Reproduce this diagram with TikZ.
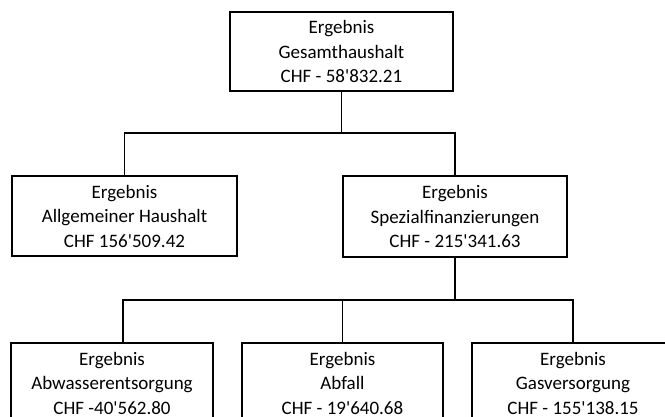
\documentclass[tikz,border=0pt]{standalone}
\usepackage{fontspec}
\setmainfont{Carlito}[Ligatures=TeXOff]
\begin{document}
\begin{tikzpicture}[x=1pt,y=-1pt,
  box/.style={draw=black,line width=1.8pt,rectangle,align=center,inner sep=0pt,
    font=\fontsize{19}{24.5}\selectfont},
  conn/.style={draw=black,line width=1.4pt}]
\useasboundingbox (0,0) rectangle (665,416);
\clip (0,0) rectangle (665,416);
\node[box,minimum width=223pt,minimum height=79pt] (top) at (341.5,51.5)
  {Ergebnis\\Gesamthaushalt\\CHF - 58'832.21};
\node[box,minimum width=225pt,minimum height=80pt] (ml) at (124.5,216)
  {Ergebnis\\Allgemeiner Haushalt\\CHF 156'509.42};
\node[box,minimum width=224pt,minimum height=81pt] (mr) at (455,216.5)
  {Ergebnis\\Spezialfinanzierungen\\CHF - 215'341.63};
\node[box,minimum width=202pt,minimum height=80pt] (bl) at (112,383)
  {Ergebnis\\Abwasserentsorgung\\CHF -40'562.80};
\node[box,minimum width=201pt,minimum height=80pt] (bm) at (342.5,383)
  {Ergebnis\\Abfall\\CHF - 19'640.68};
\node[box,minimum width=202pt,minimum height=80pt] (br) at (573,383)
  {Ergebnis\\Gasversorgung\\CHF - 155'138.15};
% upper connectors
\coordinate (j1) at (341,133);
\draw[conn] (top.south) -- (top.south |- j1);
\draw[conn] (ml.north) -- (ml.north |- j1) -- (mr.north |- j1) -- (mr.north);
% lower connectors
\coordinate (j2) at (455,300);
\coordinate (p1) at (123,343);
\draw[conn] (mr.south) -- (mr.south |- j2);
\draw[conn] (p1) -- (p1 |- j2) -- (br.north |- j2) -- (br.north);
\draw[conn] (bm.north) -- (bm.north |- j2);
\end{tikzpicture}
\end{document}
